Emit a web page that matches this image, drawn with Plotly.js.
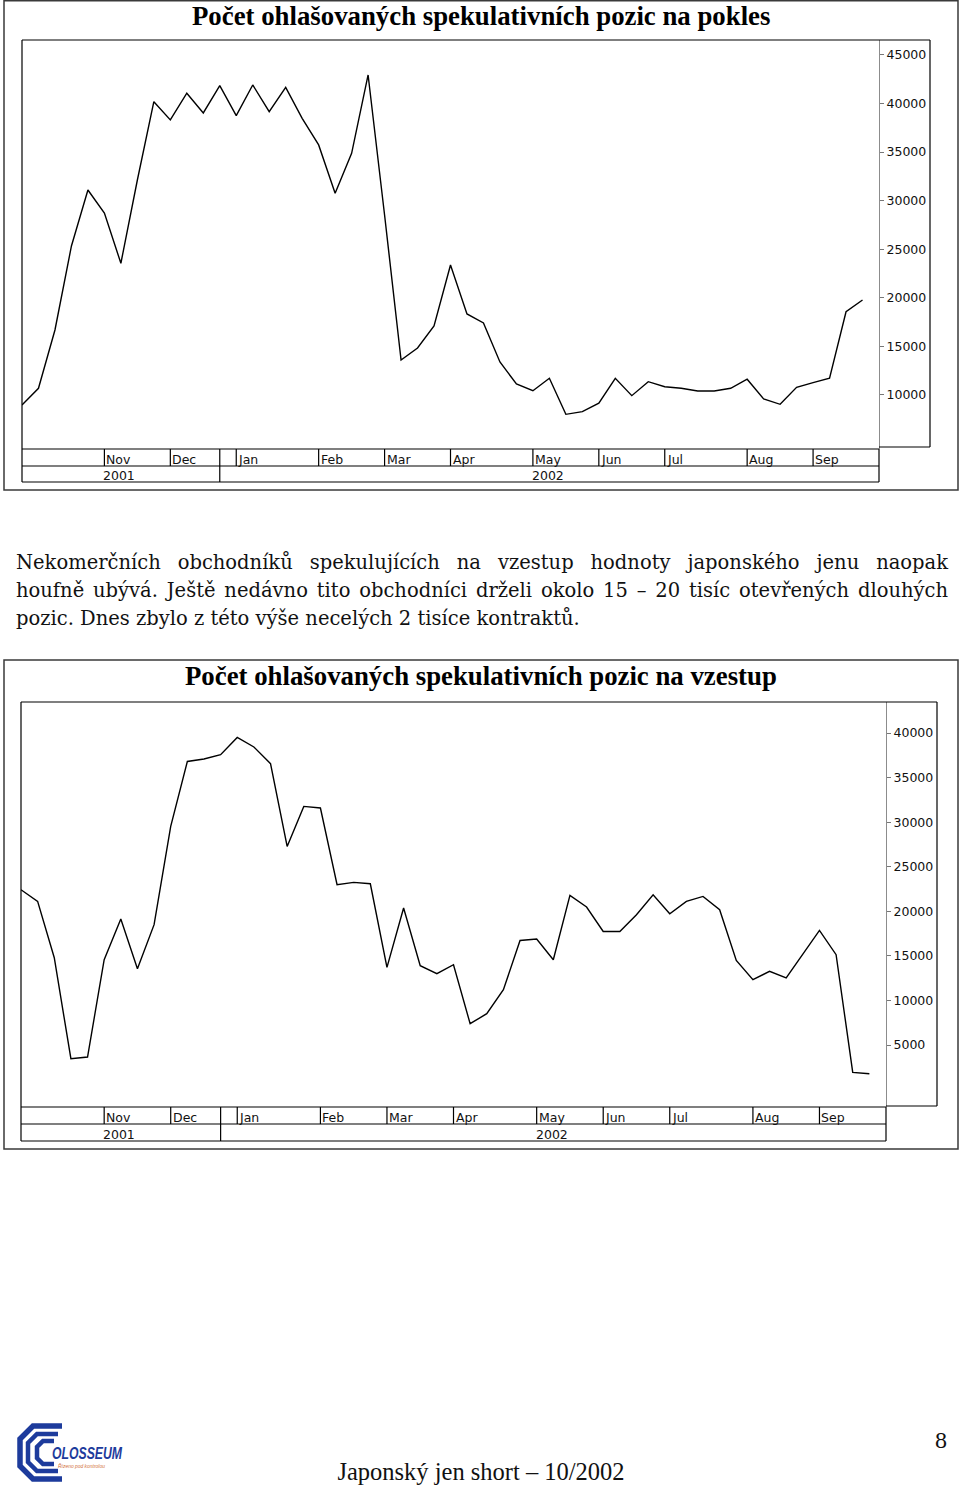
<!DOCTYPE html>
<html>
<head>
<meta charset="utf-8">
<script src="https://cdn.plot.ly/plotly-3.0.1.min.js"></script>
<style>
html,body{margin:0;padding:0;background:#fff;}
#page{position:relative;width:960px;height:1486px;overflow:hidden;background:#fff;}
#chart{position:absolute;left:0;top:0;width:960px;height:1486px;}
.pline{position:absolute;left:16px;width:932px;font-family:'DejaVu Serif',serif;font-size:19.5px;line-height:24px;color:#111;}
.just{text-align:justify;text-align-last:justify;}
#footer{position:absolute;left:0;width:962px;top:1458px;text-align:center;font-family:'Liberation Serif',serif;font-size:24.5px;color:#111;}
#pageno{position:absolute;left:935px;top:1427px;font-family:'Liberation Serif',serif;font-size:24px;color:#111;}
#logo{position:absolute;left:0;top:1405px;overflow:visible;}
</style>
</head>
<body>
<div id="page">
  <div id="chart"></div>
  <div class="pline just" style="top:551px;">Nekomerčních obchodníků spekulujících na vzestup hodnoty japonského jenu naopak</div>
  <div class="pline just" style="top:579px;">houfně ubývá. Ještě nedávno tito obchodníci drželi okolo 15 – 20 tisíc otevřených dlouhých</div>
  <div class="pline" style="top:607px;">pozic. Dnes zbylo z této výše necelých 2 tisíce kontraktů.</div>
  <svg id="logo" width="160" height="86" viewBox="0 -5 160 86">
    <polyline points="62,16 33,16 20,29 20,56 33,69 62,69" fill="none" stroke="#1d3b9c" stroke-width="5.5"/>
    <polyline points="58,24 37,24 28,33 28,52 37,61 58,61" fill="none" stroke="#1d3b9c" stroke-width="4.5"/>
    <polyline points="54,31 43,31 37,37 37,48 43,54 54,54" fill="none" stroke="#1d3b9c" stroke-width="4.5"/>
    <text transform="translate(52,49) scale(0.72,1)" font-family="Liberation Sans" font-weight="bold" font-style="italic" font-size="17" fill="#1d3b9c">OLOSSEUM</text>
    <text transform="translate(58,57.5) scale(0.9,1)" font-family="Liberation Sans" font-style="italic" font-size="5.5" fill="#d2703a">Řízeno pod kontrolou</text>
  </svg>
  <div id="pageno">8</div>
  <div id="footer">Japonský jen short – 10/2002</div>
</div>
<script>
// ---- data ----
const weeks = [
  '2001-10-02','2001-10-09','2001-10-16','2001-10-23','2001-10-30',
  '2001-11-06','2001-11-13','2001-11-20','2001-11-27',
  '2001-12-04','2001-12-11','2001-12-18','2001-12-25',
  '2002-01-01','2002-01-08','2002-01-15','2002-01-22','2002-01-29',
  '2002-02-05','2002-02-12','2002-02-19','2002-02-26',
  '2002-03-05','2002-03-12','2002-03-19','2002-03-26',
  '2002-04-02','2002-04-09','2002-04-16','2002-04-23','2002-04-30',
  '2002-05-07','2002-05-14','2002-05-21','2002-05-28',
  '2002-06-04','2002-06-11','2002-06-18','2002-06-25',
  '2002-07-02','2002-07-09','2002-07-16','2002-07-23','2002-07-30',
  '2002-08-06','2002-08-13','2002-08-20','2002-08-27',
  '2002-09-03','2002-09-10','2002-09-17','2002-09-24'
];
const shortPositions = [
  8970,10690,16690,25340,31100,
  28730,23560,32130,40190,
  38310,41060,39030,41840,
  38750,41910,39160,41670,38480,
  35740,30760,34880,42940,
  28530,13600,14840,17100,
  23380,18340,17410,13400,11130,
  10440,11720,8010,8280,
  9150,11720,9930,11370,
  10850,10690,10410,10410,10690,
  11620,9590,9040,10790,
  11270,11720,18570,19780
];
const longPositions = [
  22420,21110,14790,3460,3650,
  14570,19130,13560,18500,
  29520,36810,37080,37570,
  39510,38430,36560,27280,31770,
  31590,22980,23240,23090,
  13710,20370,13900,13000,
  14010,7390,8510,11200,16730,
  16890,14570,21780,20480,
  17740,17740,19620,21860,
  19730,21110,21670,20180,14490,
  12330,13260,12520,15130,
  17860,15130,1930,1780
];
const monthTicks = ['2001-11-06','2001-12-04','2002-01-01','2002-02-05','2002-03-05','2002-04-02','2002-05-07','2002-06-04','2002-07-02','2002-08-06','2002-09-03'];
const monthLabels = ['Nov','Dec','Jan','Feb','Mar','Apr','May','Jun','Jul','Aug','Sep'];
const yearSeparators = ['2001-12-25'];
const yearLabelAt = ['2001-11-06','2002-05-07'];
const yearLabels = ['2001','2002'];
const shortTicks = [10000,15000,20000,25000,30000,35000,40000,45000];
const longTicks = [5000,10000,15000,20000,25000,30000,35000,40000];
const titles = ['Počet ohlašovaných spekulativních pozic na pokles','Počet ohlašovaných spekulativních pozic na vzestup'];
const xRange = ['2001-10-02','2002-10-01'];

// ---- layout helpers ----
const W = 960, H = 1486;
const PX = v => v / W;
const PY = v => 1 - v / H;

const panels = [
  {values: shortPositions, ticks: shortTicks, title: titles[0], yRange: [4440, 46540],
   left: 22, right: 879, boxRight: 930, top: 40, plotBottom: 449, boxBottom: 447,
   monthBottom: 466, yearBottom: 482, frame: [4, 0.8, 958, 490], titleY: 16},
  {values: longPositions, ticks: longTicks, title: titles[1], yRange: [-1955, 43480],
   left: 21, right: 886, boxRight: 937, top: 702, plotBottom: 1107, boxBottom: 1106,
   monthBottom: 1124, yearBottom: 1141, frame: [4, 660, 958, 1149], titleY: 676}
];

const traces = [], shapes = [], annotations = [];
const layout = {
  width: W, height: H, margin: {l: 0, r: 0, t: 0, b: 0, pad: 0},
  paper_bgcolor: '#fff', plot_bgcolor: 'rgba(0,0,0,0)', showlegend: false
};

function pline(x0, y0, x1, y1, color, width) {
  shapes.push({type: 'line', xref: 'paper', yref: 'paper', x0: PX(x0), y0: PY(y0), x1: PX(x1), y1: PY(y1),
    line: {color: color || '#000', width: width || 1.2}});
}

const smallFont = {family: 'DejaVu Sans, sans-serif', size: 12.5, color: '#111'};

panels.forEach((p, k) => {
  const xa = k === 0 ? 'x' : 'x2';
  const ya = k === 0 ? 'y' : 'y2';
  const xName = k === 0 ? 'xaxis' : 'xaxis2';
  const yName = k === 0 ? 'yaxis' : 'yaxis2';
  traces.push({type: 'scatter', mode: 'lines', x: weeks, y: p.values, xaxis: xa, yaxis: ya,
    line: {color: '#000', width: 1.4}, hoverinfo: 'skip'});
  layout[xName] = {type: 'date', domain: [PX(p.left), PX(p.right)], range: xRange, anchor: ya,
    showticklabels: false, ticks: '', showgrid: false, zeroline: false, showline: false, fixedrange: true};
  layout[yName] = {domain: [PY(p.plotBottom), PY(p.top)], range: p.yRange, anchor: xa, side: 'right',
    tickmode: 'array', tickvals: p.ticks, tickformat: 'd', ticks: 'outside', ticklen: 4, tickwidth: 1,
    tickcolor: '#777', showline: true, linecolor: '#8c8c8c', linewidth: 1, showgrid: false, zeroline: false,
    tickfont: smallFont, fixedrange: true};

  // outer frame
  const f = p.frame;
  shapes.push({type: 'rect', xref: 'paper', yref: 'paper', x0: PX(f[0]), y0: PY(f[1]), x1: PX(f[2]), y1: PY(f[3]),
    line: {color: '#3a3a3a', width: 1.5}, fillcolor: 'rgba(0,0,0,0)'});
  // plot box + right axis box
  pline(p.left, p.top, p.boxRight, p.top);
  pline(p.left, p.top, p.left, p.yearBottom);
  pline(p.boxRight, p.top, p.boxRight, p.boxBottom);
  pline(p.right, p.boxBottom, p.boxRight, p.boxBottom);
  // month & year rows
  pline(p.left, p.plotBottom, p.right, p.plotBottom);
  pline(p.left, p.monthBottom, p.right, p.monthBottom);
  pline(p.left, p.yearBottom, p.right, p.yearBottom);
  pline(p.right, p.plotBottom, p.right, p.yearBottom);
  monthTicks.forEach((d, i) => {
    shapes.push({type: 'line', xref: xa, yref: 'paper', x0: d, x1: d, y0: PY(p.plotBottom), y1: PY(p.monthBottom),
      line: {color: '#000', width: 1.2}});
    annotations.push({xref: xa, yref: 'paper', x: d, y: PY((p.plotBottom + p.monthBottom) / 2 + 1.5),
      text: monthLabels[i], showarrow: false, xanchor: 'left', yanchor: 'middle', xshift: 0,
      font: smallFont});
  });
  yearSeparators.forEach(d => {
    shapes.push({type: 'line', xref: xa, yref: 'paper', x0: d, x1: d, y0: PY(p.plotBottom), y1: PY(p.yearBottom),
      line: {color: '#000', width: 1.2}});
  });
  yearLabels.forEach((t, i) => {
    annotations.push({xref: xa, yref: 'paper', x: yearLabelAt[i], y: PY((p.monthBottom + p.yearBottom) / 2 + 1.5),
      text: t, showarrow: false, xanchor: 'left', yanchor: 'middle', xshift: -3,
      font: smallFont});
  });
  // title
  annotations.push({xref: 'paper', yref: 'paper', x: PX(481), y: PY(p.titleY), text: '<b>' + p.title + '</b>',
    showarrow: false, xanchor: 'center', yanchor: 'middle',
    font: {family: 'Liberation Serif, serif', size: 26.8, color: '#000'}});
});

layout.shapes = shapes;
layout.annotations = annotations;
Plotly.newPlot('chart', traces, layout, {staticPlot: true, displayModeBar: false});
</script>
</body>
</html>
